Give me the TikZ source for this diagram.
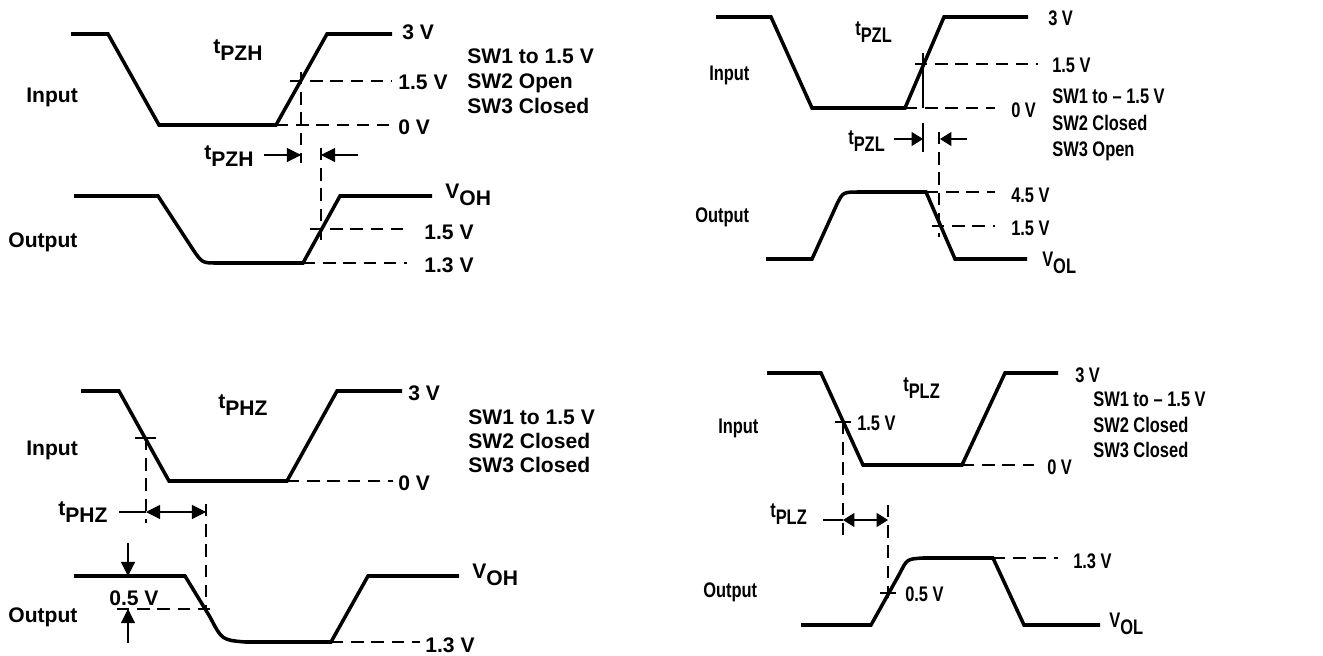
\documentclass[tikz,border=0pt]{standalone}
\usepackage{fontspec}
\setmainfont{Liberation Sans}
\usetikzlibrary{arrows.meta}
\newcommand{\sublbl}[2]{\raisebox{3.8pt}{#1}#2}
\tikzset{
	wave/.style={line width=2pt},
	guide/.style={line width=0.6pt,dash pattern=on 7pt off 4.5pt},
	tick/.style={line width=0.6pt},
	lbl/.style={font=\bfseries\fontsize{12}{14}\selectfont,inner sep=0pt,anchor=base west},
	rlbl/.style={lbl,xscale=0.78},
	tip/.style={line width=0.6pt,-{Triangle[length=8pt,width=8pt]}},
	rtip/.style={line width=0.6pt,-{Triangle[length=6.5pt,width=8pt]}},
	both/.style={line width=0.6pt,{Triangle[length=8pt,width=8pt]}-{Triangle[length=8pt,width=8pt]}},
	rboth/.style={line width=0.6pt,{Triangle[length=6.5pt,width=8pt]}-{Triangle[length=6.5pt,width=8pt]}}
}
\begin{document}
\begin{tikzpicture}[x=0.02cm,y=-0.02cm]
	\useasboundingbox (0,0) rectangle (1323,656);
	
	\draw[wave] (71,34) -- (108,34) -- (159,125) -- (276,125) -- (327,34) -- (392,34);
	\draw[wave] (74,196) -- (158,196) -- (192,248) .. controls (202,263) .. (217,263) -- (303,263) -- (340,196) -- (432,196);
	\node[lbl] (ina) at (26,102) {Input};
	\node[lbl] (outa) at (8,247) {Output};
	\node[lbl] (tpzh) at (213,60) {\sublbl{t}{PZH}};
	\node[lbl] (hia) at (402,39) {3 V};
	\node[lbl] (mida) at (398,89) {1.5 V};
	\node[lbl] (loa) at (398,134) {0 V};
	\foreach \t [count=\i] in {SW1 to 1.5 V,SW2 Open,SW3 Closed}
	\node[lbl] (swa\i) at (467,38+25*\i) {\t};
	\draw[guide] (290,81) -- (392,81);
	\draw[guide] (276,125) -- (392,125);
	\draw[guide] (301,72) -- (301,163);
	\node[lbl] (tpzhd) at (204,166) {\sublbl{t}{PZH}};
	\draw[tip] (264,155) -- (301,155);
	\draw[tip] (358,155) -- (321,155);
	\draw[guide] (321,148) -- (321,240);
	\draw[guide] (310,229) -- (407,229);
	\draw[guide] (303,263) -- (407,263);
	\node[lbl] (voha) at (445,205) {\sublbl{V}{OH}};
	\node[lbl] (omida) at (424,239) {1.5 V};
	\node[lbl] (oloa) at (424,272) {1.3 V};
	
	\draw[wave] (716,17) -- (771,17) -- (812,108) -- (905,108) -- (944,17) -- (1028,17);
	\draw[wave] (766,259) -- (812,259) -- (837,204) .. controls (843,192) .. (860,192) -- (926,192) -- (955,259) -- (1027,259);
	\node[rlbl] (inb) at (709,80) {Input};
	\node[rlbl] (outb) at (695,222) {Output};
	\node[rlbl] (tpzl) at (855,42) {\sublbl{t}{PZL}};
	\node[rlbl] (hib) at (1048,25) {3 V};
	\node[rlbl] (midb) at (1052,72) {1.5 V};
	\node[rlbl] (lob) at (1011,117) {0 V};
	\foreach \t [count=\i] in {SW1 to \textendash\ 1.5 V,SW2 Closed,SW3 Open}
	\node[rlbl] (swb\i) at (1052,77+26.5*\i) {\t};
	\draw[guide] (915,64) -- (1038,64);
	\draw[guide] (905,108) -- (995,108);
	\draw[tick] (923,53) -- (923,108);
	\draw[tick] (923,123) -- (923,152);
	\node[rlbl] (tpzld) at (848,151) {\sublbl{t}{PZL}};
	\draw[rtip] (894,139) -- (923,139);
	\draw[rtip] (967,139) -- (940,139);
	\draw[guide] (939,132) -- (939,237);
	\draw[guide] (926,192) -- (995,192);
	\draw[guide] (932,226) -- (995,226);
	\node[rlbl] (ohib) at (1011,202) {4.5 V};
	\node[rlbl] (omidb) at (1011,235) {1.5 V};
	\node[rlbl] (volb) at (1042,273) {\sublbl{V}{OL}};
	
	\draw[wave] (81,391) -- (119,391) -- (169,481) -- (287,481) -- (337,391) -- (402,391);
	\draw[wave] (74,576) -- (185,576) -- (210,617) .. controls (222,640) .. (245,642) -- (331,642) -- (368,576) -- (459,576);
	\node[lbl] (inc) at (26,455) {Input};
	\node[lbl] (outc) at (8,622) {Output};
	\node[lbl] (tphz) at (218,415) {\sublbl{t}{PHZ}};
	\node[lbl] (hic) at (408,400) {3 V};
	\node[lbl] (loc) at (398,490) {0 V};
	\foreach \t [count=\i] in {SW1 to 1.5 V,SW2 Closed,SW3 Closed}
	\node[lbl] (swc\i) at (468,400+24*\i) {\t};
	\draw[tick] (135,438) -- (156,438);
	\draw[guide] (146,438) -- (146,523);
	\draw[guide] (287,481) -- (393,481);
	\node[lbl] (tphzd) at (58,522) {\sublbl{t}{PHZ}};
	\draw[tick] (119,512) -- (146,512);
	\draw[both] (146,512) -- (206,512);
	\draw[guide] (206,504) -- (206,612);
	\draw[guide] (117,609) -- (216,609);
	\draw[tip] (128,543) -- (128,576);
	\draw[tip] (128,643) -- (128,609);
	\node[lbl] (dvc) at (109,605) {0.5 V};
	\node[lbl] (vohc) at (472,585) {\sublbl{V}{OH}};
	\draw[guide] (331,642) -- (420,642);
	\node[lbl] (oloc) at (425,652) {1.3 V};
	
	\draw[wave] (767,373) -- (821,373) -- (863,465) -- (962,465) -- (1005,373) -- (1058,373);
	\draw[wave] (801,625) -- (871,625) -- (900,573) .. controls (907,559) .. (923,558) -- (993,558) -- (1024,625) -- (1100,625);
	\node[rlbl] (ind) at (718,433) {Input};
	\node[rlbl] (outd) at (703,597) {Output};
	\node[rlbl] (tplz) at (903,398) {\sublbl{t}{PLZ}};
	\node[rlbl] (hid) at (1075,382) {3 V};
	\foreach \t [count=\i] in {SW1 to \textendash\ 1.5 V,SW2 Closed,SW3 Closed}
	\node[rlbl] (swd\i) at (1093,381+25.5*\i) {\t};
	\draw[tick] (835,422) -- (851,422);
	\node[rlbl] (midd) at (857,430) {1.5 V};
	\draw[guide] (843,422) -- (843,535);
	\draw[guide] (962,465) -- (1034,465);
	\node[rlbl] (lod) at (1047,474) {0 V};
	\node[rlbl] (tplzd) at (770,524) {\sublbl{t}{PLZ}};
	\draw[tick] (823,520) -- (843,520);
	\draw[rboth] (843,520) -- (888,520);
	\draw[guide] (888,505) -- (888,602);
	\draw[tick] (880,593) -- (896,593);
	\node[rlbl] (dvd) at (905,601) {0.5 V};
	\draw[guide] (993,558) -- (1058,558);
	\node[rlbl] (ohid) at (1073,568) {1.3 V};
	\node[rlbl] (vold) at (1109,634) {\sublbl{V}{OL}};
\end{tikzpicture}
\end{document}
